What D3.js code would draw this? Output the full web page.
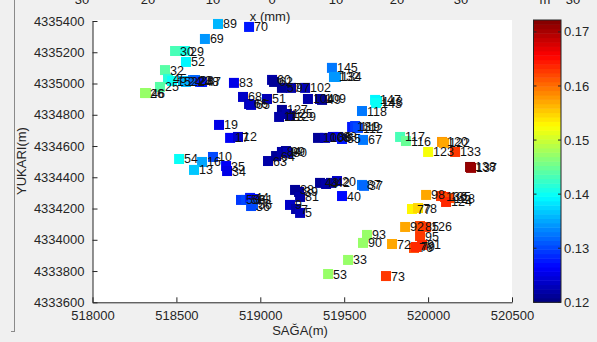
<!DOCTYPE html>
<html>
<head>
<meta charset="utf-8">
<script src="https://cdn.jsdelivr.net/npm/d3@7"></script>
<style>
  body { margin: 0; background: #f0f0f0; }
  svg { display: block; font-family: "Liberation Sans", Arial, sans-serif; }
</style>
</head>
<body>
<svg id="chart" width="597" height="342"></svg>
<script>
// station numbers, coordinates (m) and measured value (m)
const pointLabels = ['89','70','69','30','29','52','32','45','15','25','24','22','23','28','48','47','26','46',
  '83','68','66','65','51','60','62','57','97','102','104','109','49','127','125','129','113',
  '19','17','12','10','16','13','54','35','34','63','64','84','99','80',
  '100','108','86','88','55','67','131','119','112','145','132','134','147','148','143','118',
  '117','116','123','120','122','133','138','137','98','136','135','128','124','77','78',
  '92','85','126','95','91','76','79','72','93','90','33','53','73',
  '43','4','42','20','40','87','37','38','39','81','9','7','5','50','59','44','61','56','36'];
const easting = [518748,518933,518670,518492,518551,518557,518432,518450,518474,518402,518539,518557,518599,518611,518641,518653,518313,518319,
  518843,518897,518933,518945,519040,519070,519082,519129,519183,519267,519284,519356,519368,519129,519159,519177,519112,
  518754,518820,518867,518718,518653,518605,518516,518796,518802,519046,519094,519129,519153,519165,
  519344,519386,519433,519463,519487,519612,519547,519565,519582,519427,519439,519451,519684,519696,519690,519606,
  519833,519868,520000,520083,520095,520161,520250,520256,519988,520077,520101,520125,520107,519904,519940,
  519863,519952,519988,519952,519964,519916,519928,519785,519636,519612,519523,519404,519749,
  519356,519392,519421,519457,519487,519606,519618,519207,519231,519237,519177,519213,519237,518885,518915,518939,518963,518957,518945];
const northing = [4335381,4335362,4335285,4335208,4335208,4335138,4335086,4335029,4335016,4334978,4335016,4335010,4335022,4335022,4335010,4335010,4334939,4334939,
  4335004,4334914,4334869,4334863,4334901,4335023,4335010,4334972,4334972,4334972,4334901,4334901,4334895,4334831,4334805,4334792,4334786,
  4334735,4334652,4334658,4334530,4334498,4334447,4334517,4334472,4334440,4334504,4334536,4334562,4334568,4334556,
  4334652,4334652,4334658,4334658,4334645,4334639,4334722,4334728,4334715,4335100,4335042,4335042,4334895,4334888,4334875,4334824,
  4334658,4334632,4334562,4334626,4334620,4334562,4334466,4334460,4334287,4334280,4334274,4334267,4334242,4334197,4334203,
  4334082,4334088,4334082,4334024,4333967,4333948,4333954,4333973,4334031,4333980,4333871,4333781,4333768,
  4334364,4334357,4334364,4334376,4334280,4334351,4334345,4334319,4334306,4334274,4334223,4334197,4334172,4334255,4334255,4334268,4334261,4334223,4334216];
const values = [0.136,0.128,0.134,0.143,0.141,0.139,0.144,0.142,0.140,0.144,0.137,0.136,0.133,0.132,0.129,0.128,0.147,0.147,
  0.125,0.124,0.123,0.124,0.123,0.122,0.121,0.121,0.122,0.123,0.122,0.123,0.121,0.121,0.122,0.121,0.122,
  0.125,0.126,0.124,0.130,0.135,0.137,0.140,0.126,0.125,0.122,0.121,0.122,0.121,0.123,
  0.121,0.123,0.124,0.126,0.128,0.133,0.128,0.129,0.130,0.133,0.134,0.134,0.139,0.139,0.140,0.133,
  0.143,0.145,0.152,0.158,0.157,0.163,0.172,0.171,0.157,0.163,0.164,0.162,0.164,0.153,0.155,
  0.157,0.162,0.163,0.163,0.164,0.162,0.164,0.157,0.147,0.147,0.147,0.147,0.163,
  0.121,0.122,0.121,0.124,0.127,0.133,0.132,0.121,0.121,0.122,0.124,0.122,0.123,0.129,0.130,0.128,0.127,0.131,0.130];

const xTicks = [518000, 518500, 519000, 519500, 520000, 520500];
const yTicks = [4333600, 4333800, 4334000, 4334200, 4334400, 4334600, 4334800, 4335000, 4335200, 4335400];
const cbTicks = [0.12, 0.13, 0.14, 0.15, 0.16, 0.17];
const cLimits = [0.12, 0.1722];
// leftovers of another axes peeking in at the top of the window
const ghostTicks = ['30', '20', '10', '0', '10', '20', '30'];
const ghostTickPos = [82, 148, 213, 272, 336, 397, 461];

const svg = d3.select('#chart');

// matlab jet, 64 steps
function jet(t) {
  const i = Math.max(0, Math.min(63, Math.floor(t * 64)));
  const f = (i + 0.5) / 64;
  const c = v => Math.round(255 * Math.max(0, Math.min(1, v)));
  const r = c(Math.min(4 * f - 1.5, -4 * f + 4.5));
  const g = c(Math.min(4 * f - 0.5, -4 * f + 3.5));
  const b = c(Math.min(4 * f + 0.5, -4 * f + 2.5));
  return `rgb(${r},${g},${b})`;
}
const colorOf = v => jet((v - cLimits[0]) / (cLimits[1] - cLimits[0]));

const x = d3.scaleLinear().domain([518000, 520500]).range([92.5, 512]);
const y = d3.scaleLinear().domain([4333600, 4335400]).range([302.3, 21]);

// stray bits around the figure
svg.append('line').attr('x1', 14.5).attr('x2', 14.5).attr('y1', 0).attr('y2', 331)
  .style('stroke', '#8a8a8a').style('stroke-width', 1);
svg.append('line').attr('x1', 11).attr('x2', 15).attr('y1', 331.5).attr('y2', 331.5)
  .style('stroke', '#8a8a8a').style('stroke-width', 1);
svg.selectAll('text.ghost')
  .data(ghostTicks)
  .enter()
  .append('text')
  .attr('class', 'ghost')
  .attr('x', (d, i) => ghostTickPos[i])
  .attr('y', 4)
  .attr('text-anchor', 'middle')
  .style('font-size', '13px')
  .style('fill', '#222')
  .text(d => d);
svg.append('text').attr('x', 545).attr('y', 4).attr('text-anchor', 'middle')
  .style('font-size', '13px').style('fill', '#222').text('m');
svg.append('text').attr('x', 573).attr('y', 4).attr('text-anchor', 'middle')
  .style('font-size', '13px').style('fill', '#222').text('30');

// plot area
svg.append('rect')
  .attr('x', 93).attr('y', 20)
  .attr('width', 512 - 93).attr('height', 302.3 - 20)
  .style('fill', '#fff');

svg.append('text').attr('x', 270).attr('y', 21).attr('text-anchor', 'middle')
  .style('font-size', '13px').style('fill', '#222').text('x (mm)');

// markers
const size = 10;
svg.append('g').selectAll('rect')
  .data(values)
  .enter()
  .append('rect')
  .attr('x', (d, i) => x(easting[i]) - size / 2)
  .attr('y', (d, i) => y(northing[i]) - size / 2)
  .attr('width', size)
  .attr('height', size)
  .style('fill', d => colorOf(d));

// station labels
svg.append('g').selectAll('text')
  .data(pointLabels)
  .enter()
  .append('text')
  .attr('x', (d, i) => x(easting[i]) + 5)
  .attr('y', (d, i) => y(northing[i]) + 4.5)
  .style('font-size', '12.5px')
  .style('fill', '#111')
  .text(d => d);

// axes
const xAxis = d3.axisBottom(x).tickValues(xTicks).tickSizeInner(-5).tickSizeOuter(0).tickPadding(8)
  .tickFormat(d3.format('d'));
const yAxis = d3.axisLeft(y).tickValues(yTicks).tickSizeInner(-5).tickSizeOuter(0).tickPadding(8)
  .tickFormat(d3.format('d'));

const gx = svg.append('g').attr('transform', 'translate(0,302.3)').call(xAxis);
const gy = svg.append('g').attr('transform', 'translate(92.5,0)').call(yAxis);
[gx, gy].forEach(g => {
  g.selectAll('path, line').style('stroke', '#262626');
  g.selectAll('text').style('font-size', '13px').style('fill', '#262626')
    .style('font-family', '"Liberation Sans", Arial, sans-serif');
});

svg.append('text')
  .attr('x', 300).attr('y', 335)
  .attr('text-anchor', 'middle')
  .style('font-size', '13px').style('fill', '#262626')
  .text('SAĞA(m)');
svg.append('text')
  .attr('transform', 'translate(26,161) rotate(-90)')
  .attr('text-anchor', 'middle')
  .style('font-size', '13px').style('fill', '#262626')
  .text('YUKARI(m)');

// colorbar
const cbX = 533.5, cbW = 27.5;
const cb = d3.scaleLinear().domain(cLimits).range([302.3, 20]);
const steps = d3.range(64);
svg.append('g').selectAll('rect')
  .data(steps)
  .enter()
  .append('rect')
  .attr('x', cbX)
  .attr('y', d => cb(cLimits[0] + (d + 1) / 64 * (cLimits[1] - cLimits[0])))
  .attr('width', cbW)
  .attr('height', d => cb(cLimits[0] + d / 64 * (cLimits[1] - cLimits[0])) - cb(cLimits[0] + (d + 1) / 64 * (cLimits[1] - cLimits[0])) + 0.5)
  .style('fill', d => jet((d + 0.5) / 64));
svg.append('rect')
  .attr('x', cbX).attr('y', 20).attr('width', cbW).attr('height', 302.3 - 20)
  .style('fill', 'none').style('stroke', '#262626').style('stroke-width', 1);

const cbTickG = svg.append('g').selectAll('g')
  .data(cbTicks)
  .enter()
  .append('g')
  .attr('transform', d => `translate(0,${cb(d)})`);
cbTickG.append('line').attr('x1', cbX).attr('x2', cbX + 3).style('stroke', '#262626');
cbTickG.append('line').attr('x1', cbX + cbW - 3).attr('x2', cbX + cbW).style('stroke', '#262626');
cbTickG.append('text')
  .attr('x', cbX + cbW + 3)
  .attr('dy', '0.35em')
  .style('font-size', '13px').style('fill', '#262626')
  .text(d => d.toFixed(2));
</script>
</body>
</html>
